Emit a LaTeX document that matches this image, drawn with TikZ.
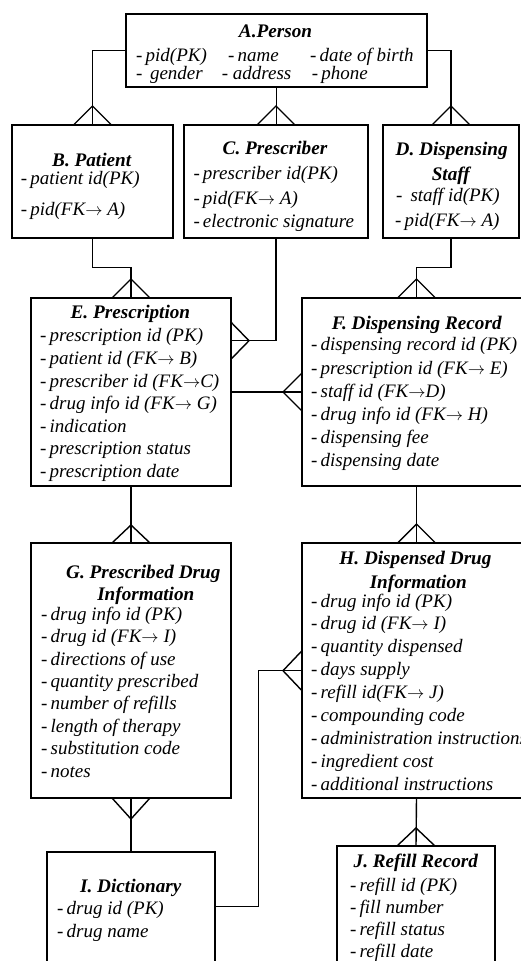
\documentclass[tikz,border=0pt]{standalone}
\usepackage{fontspec}
\setmainfont{Liberation Serif}
\usetikzlibrary{calc}
% arrow used in the foreign-key fields
\newcommand\fkarrow{\ensuremath{\rightarrow}}
% crow's foot: edge point, vertex offset, two foot offsets
\newcommand\crowfoot[4]{\draw[link] ($(#1)+(#3)$) -- ($(#1)+(#2)$) -- ($(#1)+(#4)$);}
% one attribute line: name, x, y, text
\newcommand\fieldat[4]{\node[fieldtxt] (#1) at (#2,#3) {-\,#4};}
\begin{document}
\begin{tikzpicture}[x=1pt,y=-1pt,
  entity/.style={draw,line width=1.4pt,anchor=north west,inner sep=0pt,outer sep=0pt},
  enttitle/.style={font=\fontsize{19.2}{22}\selectfont\bfseries\itshape,anchor=mid,inner sep=0pt},
  fieldtxt/.style={font=\fontsize{19}{22}\selectfont\itshape,anchor=mid west,inner sep=0pt},
  link/.style={line width=1.4pt,line join=miter}]
\useasboundingbox (0,0) rectangle (521,961);
\clip (0,0) rectangle (521,961);

% entity boxes
\node[entity,minimum width=301pt,minimum height=73pt]  (A) at (126,14) {};
\node[entity,minimum width=161pt,minimum height=113pt] (B) at (12,125) {};
\node[entity,minimum width=184pt,minimum height=113pt] (C) at (184,125) {};
\node[entity,minimum width=136pt,minimum height=113pt] (D) at (383,125) {};
\node[entity,minimum width=200pt,minimum height=188pt] (E) at (31,298) {};
\node[entity,minimum width=229pt,minimum height=188pt] (F) at (302,298) {};
\node[entity,minimum width=200pt,minimum height=255pt] (G) at (31,543) {};
\node[entity,minimum width=229pt,minimum height=255pt] (H) at (302,543) {};
\node[entity,minimum width=168pt,minimum height=130pt] (I) at (47,852) {};
\node[entity,minimum width=158pt,minimum height=130pt] (J) at (337,846) {};

\begin{scope}[yshift=-3pt]
% titles
\node[enttitle] (At)  at (275.5,32)   {A.Person};
\node[enttitle] (Bt)  at (91.7,161)   {B. Patient};
\node[enttitle] (Ct)  at (275,149)    {C. Prescriber};
\node[enttitle] (Dt1) at (451.7,150)  {D. Dispensing};
\node[enttitle] (Dt2) at (450.8,175)  {Staff};
\node[enttitle] (Et)  at (130.4,313.3) {E. Prescription};
\node[enttitle] (Ft)  at (416.7,324.3) {F. Dispensing Record};
\node[enttitle] (Gt1) at (143.3,573.3) {G. Prescribed Drug};
\node[enttitle] (Gt2) at (145.8,594.7) {Information};
\node[enttitle] (Ht1) at (415.5,559.3) {H. Dispensed Drug};
\node[enttitle] (Ht2) at (418.3,583)  {Information};
\node[enttitle] (It)  at (130.8,886.7) {I. Dictionary};
\node[enttitle] (Jt)  at (415.8,862)  {J. Refill Record};

% A. Person
\fieldat{A1}{136}{55.8}{pid(PK)}
\fieldat{A2}{228}{55.8}{name}
\fieldat{A3}{310}{55.8}{date of birth}
\node[fieldtxt] (A4) at (136,74) {-\hspace{7.5pt}gender};
\node[fieldtxt] (A5) at (221.7,74) {- address};
\fieldat{A6}{311.7}{74}{phone}

% B. Patient
\fieldat{B1}{20.7}{179.5}{patient id(PK)}
\fieldat{B2}{20.7}{210.5}{pid(FK\fkarrow\ A)}

% C. Prescriber
\fieldat{C1}{193.3}{174}{prescriber id(PK)}
\fieldat{C2}{193.3}{199}{pid(FK\fkarrow\ A)}
\fieldat{C3}{193.3}{222.5}{electronic signature}

% D. Dispensing Staff
\node[fieldtxt] (D1) at (396,196.7) {-\hspace{8pt}staff id(PK)};
\fieldat{D2}{395}{221.7}{pid(FK\fkarrow\ A)}

% E. Prescription
\fieldat{E1}{40}{336.7}{prescription id (PK)}
\fieldat{E2}{40}{359.3}{patient id (FK\fkarrow\ B)}
\fieldat{E3}{40}{381.8}{prescriber id (FK\fkarrow C)}
\fieldat{E4}{40}{404.4}{drug info id (FK\fkarrow\ G)}
\fieldat{E5}{40}{426.9}{indication}
\fieldat{E6}{40}{449.5}{prescription status}
\fieldat{E7}{40}{472}{prescription date}

% F. Dispensing Record
\fieldat{F1}{311}{345.7}{dispensing record id (PK)}
\fieldat{F2}{311}{368.8}{prescription id (FK\fkarrow\ E)}
\fieldat{F3}{311}{391.8}{staff id (FK\fkarrow D)}
\fieldat{F4}{311}{414.9}{drug info id (FK\fkarrow\ H)}
\fieldat{F5}{311}{437.9}{dispensing fee}
\fieldat{F6}{311}{461}{dispensing date}

% G. Prescribed Drug Information
\fieldat{G1}{41}{615}{drug info id (PK)}
\fieldat{G2}{41}{637.4}{drug id (FK\fkarrow\ I)}
\fieldat{G3}{41}{659.8}{directions of use}
\fieldat{G4}{41}{682.2}{quantity prescribed}
\fieldat{G5}{41}{704.6}{number of refills}
\fieldat{G6}{41}{727}{length of therapy}
\fieldat{G7}{41}{749.4}{substitution code}
\fieldat{G8}{41}{771.8}{notes}

% H. Dispensed Drug Information
\fieldat{H1}{311}{601.7}{drug info id (PK)}
\fieldat{H2}{311}{624.6}{drug id (FK\fkarrow\ I)}
\fieldat{H3}{311}{647.5}{quantity dispensed}
\fieldat{H4}{311}{670.4}{days supply}
\fieldat{H5}{311}{693.3}{refill id(FK\fkarrow\ J)}
\fieldat{H6}{311}{716.2}{compounding code}
\fieldat{H7}{311}{739.1}{administration instructions}
\fieldat{H8}{311}{762}{ingredient cost}
\fieldat{H9}{311}{785}{additional instructions}

% I. Dictionary
\fieldat{I1}{57}{909.3}{drug id (PK)}
\fieldat{I2}{57}{931.7}{drug name}

% J. Refill Record
\fieldat{J1}{350}{886}{refill id (PK)}
\fieldat{J2}{350}{908.3}{fill number}
\fieldat{J3}{350}{930}{refill status}
\fieldat{J4}{350}{952.3}{refill date}
\end{scope}

% relationships
\draw[link] (A.west) -| (B.north);
\draw[link] (A.south) -- (A.south |- C.north);
\draw[link] (A.east) -| (D.north);
\draw[link] (B.south) -- ++(0,29.7) -| (E.north);
\coordinate (EfromC) at ($(E.north east)+(0,42.7)$);
\draw[link] (C.south) |- (EfromC);
\draw[link] (D.south) -- ++(0,29.7) -| (F.north);
\draw[link] (E.east) -- (F.west);
\draw[link] (E.south) -- (G.north);
\draw[link] (F.south) -- (H.north);
\draw[link] (G.south) -- (I.north);
\coordinate (IfromH) at ($(I.north east)+(0,54.7)$);
\coordinate (HfromI) at ($(H.north west)+(0,127.7)$);
\draw[link] (IfromH) -- ++(43.3,0) |- (HfromI);
\draw[link] (H.south) -- (J.north);

% crow's feet (many side)
\crowfoot{B.north}{0,-19}{-19,0}{19,0}
\crowfoot{C.north}{0,-19}{-19,0}{19,0}
\crowfoot{D.north}{0,-19}{-19,0}{19,0}
\crowfoot{E.north}{0,-19}{-19,0}{19,0}
\crowfoot{EfromC}{18,0}{0,-18.5}{0,18.5}
\crowfoot{F.north}{0,-19}{-19,0}{19,0}
\crowfoot{F.west}{-19,0}{0,-19}{0,19}
\crowfoot{G.north}{0,-18}{-19,0}{19,0}
\crowfoot{H.north}{0,-19}{-19,0}{19,0}
\crowfoot{G.south}{0,21}{-19,0}{19,0}
\crowfoot{HfromI}{-19,0}{0,-20}{0,20}
\crowfoot{J.north}{0,-18}{-19,0}{19,0}
\end{tikzpicture}
\end{document}
